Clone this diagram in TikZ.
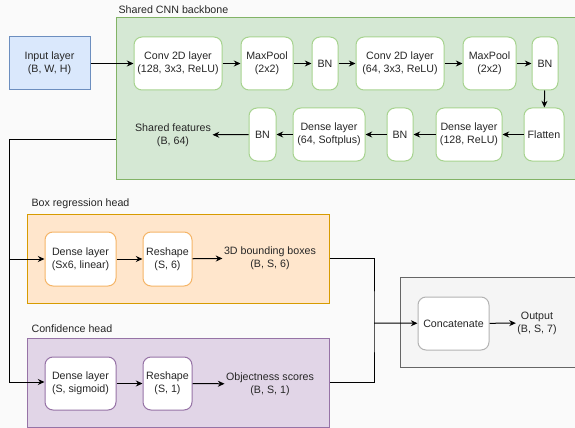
\documentclass[tikz,border=0pt]{standalone}
\usepackage{fontspec}
\setmainfont{Liberation Sans}
\usetikzlibrary{arrows.meta}

\definecolor{bgcol}{HTML}{FAFAFA}
\definecolor{bluefill}{HTML}{DAE8FC}
\definecolor{bluedraw}{HTML}{6C8EBF}
\definecolor{greenfill}{HTML}{D5E8D4}
\definecolor{greendraw}{HTML}{82B366}
\definecolor{greenlight}{HTML}{A7D38F}
\definecolor{orangefill}{HTML}{FFE6CC}
\definecolor{orangedraw}{HTML}{D79B00}
\definecolor{orangelight}{HTML}{F5B567}
\definecolor{purplefill}{HTML}{E1D5E7}
\definecolor{purpledraw}{HTML}{9673A6}
\definecolor{grayfill}{HTML}{F5F5F5}
\definecolor{graydraw}{HTML}{666666}
\definecolor{graylight}{HTML}{B3B3B3}

\begin{document}
\begin{tikzpicture}[
            x = 0.75pt, y = -0.75pt,
            every node/.style={font=\fontsize{8}{9.6}\selectfont, text=black!85, align=center, inner sep=1pt},
            group/.style={draw=#1, line width=.75pt, minimum height=66.75pt, inner sep=0pt},
            layer/.style={draw=#1, fill=white, line width=.75pt, rounded corners=6pt, minimum height=39.75pt},
            title/.style={anchor=west},
            line/.style={line width=.75pt, -{Stealth[length=5pt, width=4.5pt]}},
            wire/.style={line width=.75pt},
            ]

        \fill[bgcol] (0, 0) rectangle (575, 428);
        \useasboundingbox (0, 0) rectangle (575, 428);

        \node[group=greendraw, fill=greenfill, minimum width=348pt, minimum height=120.75pt] (cnn) at (348, 98.5) {};
        \node[group=orangedraw, fill=orangefill, minimum width=226.5pt] (boxhead) at (178, 258.5) {};
        \node[group=purpledraw, fill=purplefill, minimum width=226.5pt] (confhead) at (178, 382.5) {};
        \node[group=graydraw, fill=grayfill, minimum width=135pt, minimum height=67.5pt] (outgroup) at (490, 322) {};

        \node[title] (cnntitle) at (117, 10) {Shared CNN backbone};
        \node[title] (boxtitle) at (30, 204) {Box regression head};
        \node[title] (conftitle) at (30, 329) {Confidence head};

        \node[draw=bluedraw, fill=bluefill, line width=.75pt, minimum width=60.75pt, minimum height=39.75pt] (input) at (49.5, 63.5) {Input layer\\(B, W, H)};

        \node[layer=greenlight, minimum width=66pt] (conv1) at (178, 63.5) {Conv 2D layer\\(128, 3x3, ReLU)};
        \node[layer=greenlight, minimum width=39pt] (pool1) at (267, 63.5) {MaxPool\\(2x2)};
        \node[layer=greenlight, minimum width=19.5pt] (bn1) at (325, 63.5) {BN};
        \node[layer=greenlight, minimum width=66pt] (conv2) at (400, 63.5) {Conv 2D layer\\(64, 3x3, ReLU)};
        \node[layer=greenlight, minimum width=39.75pt] (pool2) at (489.5, 63.5) {MaxPool\\(2x2)};
        \node[layer=greenlight, minimum width=19.5pt] (bn2) at (545, 63.5) {BN};
        \node[layer=greenlight, minimum width=30pt] (flat) at (544, 134.5) {Flatten};
        \node[layer=greenlight, minimum width=49.5pt] (dense1) at (469, 134.5) {Dense layer\\(128, ReLU)};
        \node[layer=greenlight, minimum width=19.5pt] (bn3) at (400, 134.5) {BN};
        \node[layer=greenlight, minimum width=54pt] (dense2) at (329, 134.5) {Dense layer\\(64, Softplus)};
        \node[layer=greenlight, minimum width=20.25pt] (bn4) at (262.5, 134.5) {BN};
        \node (feat) at (173, 135) {Shared features\\(B, 64)};

        \node[layer=orangelight, minimum width=53.25pt, minimum height=40.5pt] (denseb) at (80.5, 259) {Dense layer\\(Sx6, linear)};
        \node[layer=orangelight, minimum width=36.75pt, minimum height=40.5pt] (reshb) at (167.5, 259) {Reshape\\(S, 6)};
        \node (bboxes) at (270, 258) {3D bounding boxes\\(B, S, 6)};

        \node[layer=purpledraw, minimum width=53.25pt] (densec) at (80.5, 383.5) {Dense layer\\(S, sigmoid)};
        \node[layer=purpledraw, minimum width=36.75pt] (reshc) at (167.5, 383.5) {Reshape\\(S, 1)};
        \node (objscore) at (270, 384) {Objectness scores\\(B, S, 1)};

        \node[layer=graylight, minimum width=53.25pt] (concat) at (453.5, 323.5) {Concatenate};
        \node (output) at (537, 323) {Output\\(B, S, 7)};

        \coordinate (split) at (9, 139);
        \coordinate (merge) at (374, 323);

        \draw[line] (input) -- (conv1);
        \draw[line] (conv1) -- (pool1);
        \draw[line] (pool1) -- (bn1);
        \draw[line] (bn1) -- (conv2);
        \draw[line] (conv2) -- (pool2);
        \draw[line] (pool2) -- (bn2);
        \draw[line] (bn2) -- (flat);
        \draw[line] (flat) -- (dense1);
        \draw[line] (dense1) -- (bn3);
        \draw[line] (bn3) -- (dense2);
        \draw[line] (dense2) -- (bn4);
        \draw[line] (bn4) -- (feat);

        \draw[wire] (split -| cnn.west) -- (split);
        \draw[line] (split) |- (denseb);
        \draw[line] (split) |- (densec.west |- 0, 382);
        \draw[line] (denseb) -- (reshb);
        \draw[line] (reshb) -- (bboxes);
        \draw[line] (densec) -- (reshc);
        \draw[line] (reshc) -- (objscore);

        \draw[wire] (boxhead.east) -| (merge) |- (confhead.east);
        \draw[line] (merge) -- (concat);
        \draw[line] (concat) -- (output);
    \end{tikzpicture}
\end{document}
